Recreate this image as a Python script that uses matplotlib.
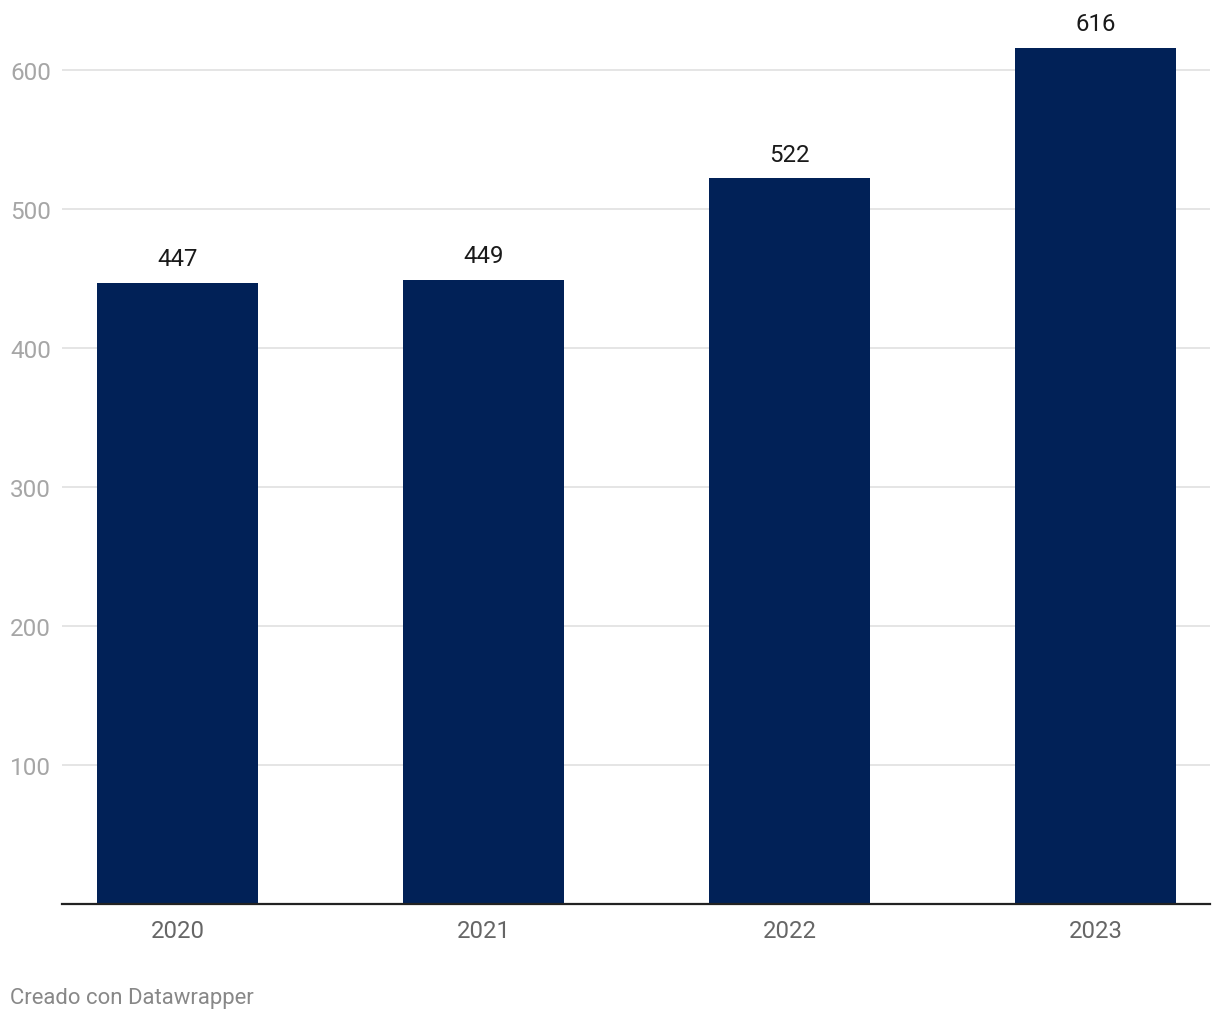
import matplotlib.pyplot as plt

plt.rcParams['font.family'] = ['Roboto', 'DejaVu Sans']

years = ['2020', '2021', '2022', '2023']
values = [447, 449, 522, 616]
yticks = [100, 200, 300, 400, 500, 600]

fig = plt.figure(figsize=(12.2, 10.2), dpi=100)
ax = fig.add_axes([62 / 1220, 115 / 1020, 1148 / 1220, 884 / 1020])

x = range(len(years))
ax.bar(x, values, width=0.526, color='#012157', zorder=2)
for xi, v in zip(x, values):
    ax.annotate(str(v), (xi, v), xytext=(0, 9), textcoords='offset points',
                ha='center', va='bottom', fontsize=17.3, color='#1a1a1a')

ax.set_xlim(-0.377, 3.374)
ax.set_ylim(0, 636)
ax.set_xticks(list(x))
ax.set_xticklabels(years)
ax.set_yticks(yticks)
ax.grid(axis='y', color='#e3e3e3', linewidth=1.3, zorder=0)

for s in ['top', 'right', 'left']:
    ax.spines[s].set_visible(False)
ax.spines['bottom'].set_color('#222222')
ax.spines['bottom'].set_linewidth(1.6)
ax.spines['bottom'].set_zorder(3)

ax.tick_params(axis='x', length=0, pad=11, labelsize=17.2, labelcolor='#666666')
ax.tick_params(axis='y', length=0, pad=37.4, labelsize=17.5, labelcolor='#a6a6a6')
for lab in ax.get_yticklabels():
    lab.set_horizontalalignment('left')

fig.text(10 / 1220, 1 - 999 / 1020, 'Creado con Datawrapper', ha='left', va='center',
         fontsize=15.9, color='#888888')

fig.savefig('out.png', dpi=100)
